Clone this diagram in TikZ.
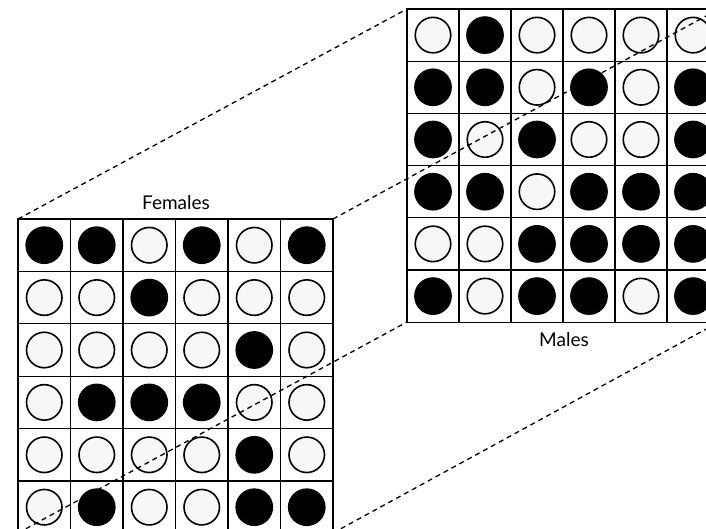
\documentclass[tikz,border=0pt]{standalone}
\usepackage{fontspec}
\setmainfont{Lato}
\begin{document}
\begin{tikzpicture}[x=1pt,y=-1pt,
  gridline/.style={line width=1.1pt, draw=black},
  s1/.style={circle, fill=black, draw=black, line width=1.2pt, minimum size=36.5pt, inner sep=0pt},
  s0/.style={circle, fill=gray!6, draw=black, line width=1.6pt, minimum size=35.5pt, inner sep=0pt},
  link/.style={dash pattern=on 5pt off 4pt, line width=1.3pt},
  lbl/.style={font=\fontsize{19}{22}\selectfont, inner sep=0pt}]
\useasboundingbox (0,0) rectangle (706,529);
\begin{scope}
\clip (0,0) rectangle (706,529);
% Females grid
\foreach \r/\vals in {1/{1,1,0,1,0,1},2/{0,0,1,0,0,0},3/{0,0,0,0,1,0},4/{0,1,1,1,0,0},5/{0,0,0,0,1,0},6/{0,1,0,0,1,1}}{
  \foreach \v [count=\c] in \vals {
    \draw[gridline] ({18+(\c-1)*52.5},{219+(\r-1)*52.4}) rectangle ++(52.5,52.4);
    \node[s\v] (f-\r-\c) at ({18+(\c-0.5)*52.5},{219+(\r-0.5)*52.4}) {};
  }
}
% Males grid
\foreach \r/\vals in {1/{0,1,0,0,0,0},2/{1,1,0,1,0,1},3/{1,0,1,0,0,1},4/{1,1,0,1,1,1},5/{0,0,1,1,1,1},6/{1,0,1,1,0,1}}{
  \foreach \v [count=\c] in \vals {
    \draw[gridline] ({407+(\c-1)*52},{9+(\r-1)*52.2}) rectangle ++(52,52.2);
    \node[s\v] (m-\r-\c) at ({407+(\c-0.5)*52},{9+(\r-0.5)*52.2}) {};
  }
}
\coordinate (fTL) at (18,219);
\coordinate (fTR) at (333,219);
\coordinate (fBL) at (18,533);
\coordinate (fBR) at (333,533);
\coordinate (mTL) at (407,9);
\coordinate (mTR) at (719,9);
\coordinate (mBL) at (407,322);
\coordinate (mBR) at (719,322);
\draw[link] (fTL) -- (mTL);
\draw[link] (fTR) -- (mTR);
\draw[link] (fBL) -- (mBL);
\draw[link] (fBR) -- (mBR);
\node[lbl, anchor=base] (flabel) at (176,210) {Females};
\node[lbl, anchor=base] (mlabel) at (564,346) {Males};
\end{scope}
\end{tikzpicture}
\end{document}
